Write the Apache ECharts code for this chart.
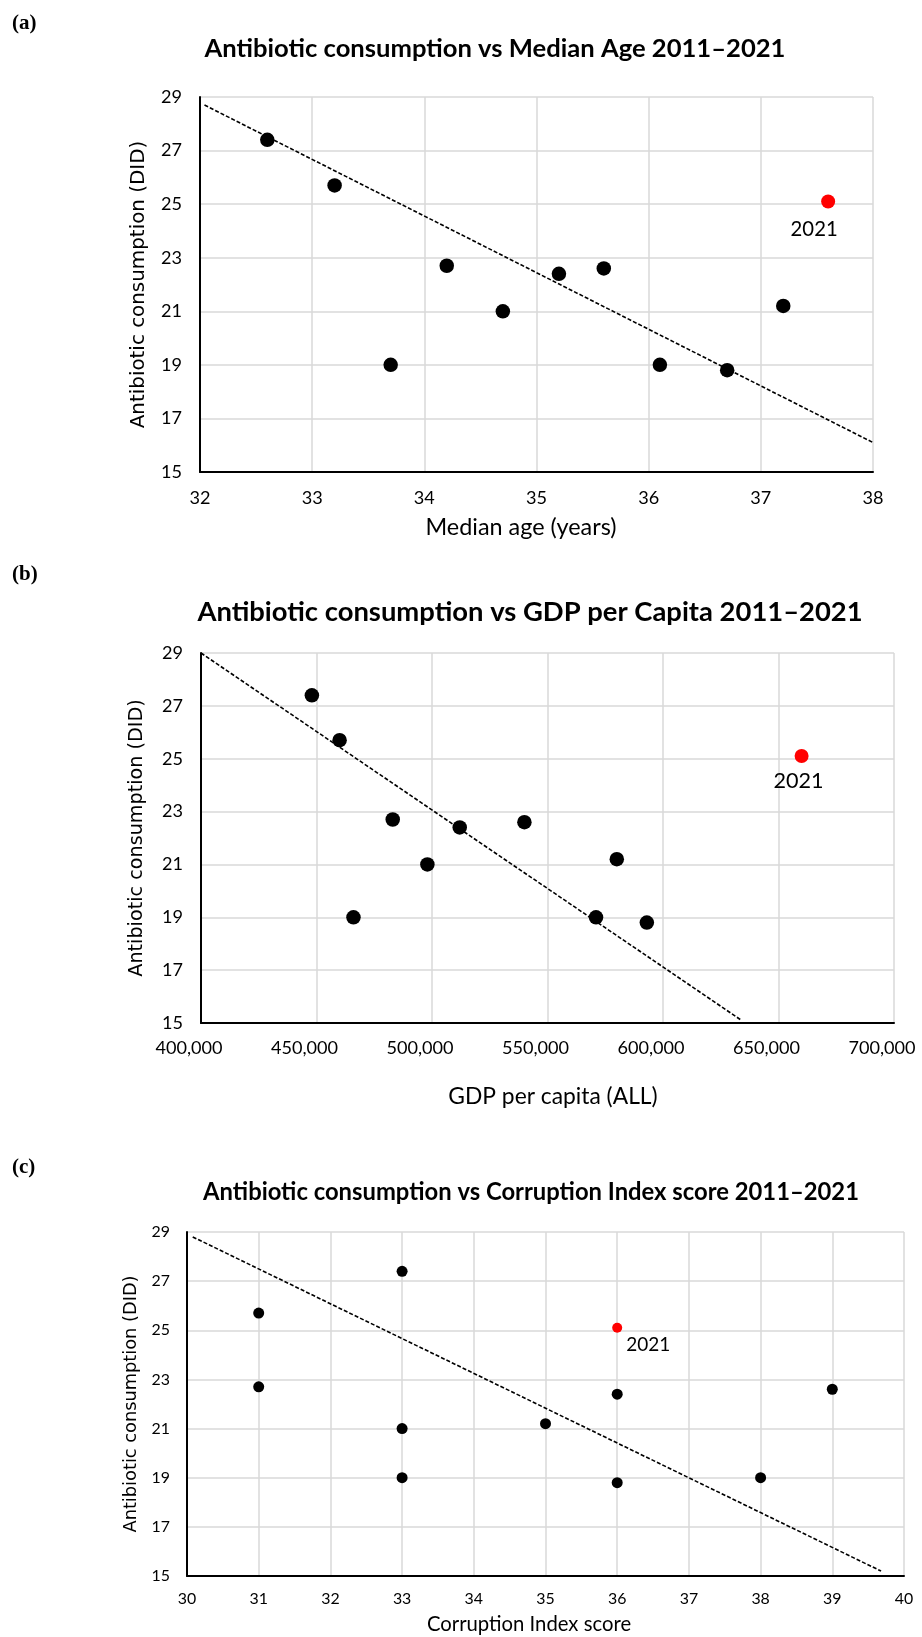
<!DOCTYPE html>
<html>
<head>
<meta charset="utf-8">
<script src="https://cdn.jsdelivr.net/npm/echarts@6/dist/echarts.min.js"></script>
<style>
html,body{margin:0;padding:0;background:#fff;}
#chart{width:922px;height:1637px;}
</style>
</head>
<body>
<div id="chart"></div>
<script>
// ---------------- DATA ----------------
const years = ['2011','2012','2013','2014','2015','2016','2017','2018','2019','2020','2021'];
const consumption = [27.4, 25.7, 19.0, 22.7, 21.0, 22.4, 22.6, 19.0, 18.8, 21.2, 25.1];
const medianAge = [32.6, 33.2, 33.7, 34.2, 34.7, 35.2, 35.6, 36.1, 36.7, 37.2, 37.6];
const gdpPerCapita = [448000, 460000, 466000, 483000, 498000, 512000, 540000, 571000, 593000, 580000, 660000];
const corruptionScore = [33, 31, 33, 31, 33, 36, 39, 38, 36, 35, 36];
const highlightYear = '2021';

// trend lines (endpoints)
const trendAgeX = [32.04, 38];
const trendAgeY = [28.7, 16.1];
const trendGdpX = [400000, 634000];
const trendGdpY = [29.0, 15.1];
const trendCpiX = [30.08, 39.68];
const trendCpiY = [28.8, 15.2];

// axis ranges / ticks
const yTicks = [15, 17, 19, 21, 23, 25, 27, 29];
const ageTicks = [32, 33, 34, 35, 36, 37, 38];
const gdpTicks = [400000, 450000, 500000, 550000, 600000, 650000, 700000];
const cpiTicks = [30, 31, 32, 33, 34, 35, 36, 37, 38, 39, 40];

const panelLabels = ['(a)', '(b)', '(c)'];
const titles = [
  'Antibiotic consumption vs Median Age 2011\u20132021',
  'Antibiotic consumption vs GDP per Capita 2011\u20132021',
  'Antibiotic consumption vs Corruption Index score 2011\u20132021'
];
const xNames = ['Median age (years)', 'GDP per capita (ALL)', 'Corruption Index score'];
const yName = 'Antibiotic consumption (DID)';

// ---------------- LAYOUT ----------------
const cv = document.createElement('canvas').getContext('2d');
function fitSize(text, family, weight, target) {
  cv.font = weight + ' 100px ' + family;
  return Math.round(1000 * target / cv.measureText(text).width) / 10;
}
const layout = [
  { grid: {left: 200, top: 97, width: 673, height: 375}, titleX: 495, titleY: 49, titleW: 582, labelY: 24,
    yNameX: 139, yNameW: 288, xNameX: 521, xNameY: 527, xNameW: 191, tickW: 21, xLabelCY: 498, yLabelMargin: 18,
    xLabelShift: 0, sym: 14.5, symHi: 14, hiW: 47, hiOff: [-14, 28] },
  { grid: {left: 201, top: 653, width: 693, height: 370}, titleX: 530, titleY: 612, titleW: 666, labelY: 575,
    yNameX: 137, yNameW: 278, xNameX: 553, xNameY: 1097, xNameW: 209, tickW: 21, xLabelCY: 1048, yLabelMargin: 18,
    xLabelShift: 12, sym: 14.5, symHi: 14, hiW: 50, hiOff: [-3, 25] },
  { grid: {left: 187, top: 1232, width: 717, height: 344}, titleX: 531, titleY: 1192, titleW: 656, labelY: 1168,
    yNameX: 132, yNameW: 257, xNameX: 529, xNameY: 1624, xNameW: 204, tickW: 18.5, xLabelCY: 1599, yLabelMargin: 17,
    xLabelShift: 0, sym: 11, symHi: 10, hiW: 44, hiOff: [31, 17] }
];

const xData = [medianAge, gdpPerCapita, corruptionScore];
const xTickSets = [ageTicks, gdpTicks, cpiTicks];
const trends = [[trendAgeX, trendAgeY], [trendGdpX, trendGdpY], [trendCpiX, trendCpiY]];

const TICK_FONT = 'Lato';
const gridColor = '#d9d9d9';

const grids = [], xAxes = [], yAxes = [], series = [], graphics = [];

layout.forEach((L, i) => {
  const g = L.grid;
  grids.push(Object.assign({containLabel: false, outerBoundsMode: 'none'}, g));
  const tickFs = fitSize('29', TICK_FONT, 'normal', L.tickW);
  const xNameFs = fitSize(xNames[i], TICK_FONT, 'normal', L.xNameW);
  const yNameFs = fitSize(yName, 'DejaVu Sans', 'normal', L.yNameW);
  const titleFs = fitSize(titles[i], TICK_FONT, 'bold', L.titleW);
  const hiFs = fitSize(highlightYear, TICK_FONT, 'normal', L.hiW);
  const xt = xTickSets[i];
  const bottom = g.top + g.height;
  const plotCX = g.left + g.width / 2;
  const xNameShift = L.xNameX - plotCX;

  xAxes.push({
    type: 'value', gridIndex: i,
    min: xt[0], max: xt[xt.length - 1], interval: xt[1] - xt[0],
    name: xNames[i], nameLocation: 'middle',
    nameGap: L.xNameY - bottom - xNameFs / 2,
    nameTextStyle: {fontFamily: TICK_FONT, fontSize: xNameFs, lineHeight: xNameFs, color: '#000',
      padding: xNameShift < 0 ? [0, -2 * xNameShift, 0, 0] : [0, 0, 0, 2 * xNameShift]},
    axisLine: {show: true, onZero: false, lineStyle: {color: '#000', width: 2}},
    axisTick: {show: false},
    axisLabel: {fontFamily: TICK_FONT, fontSize: tickFs, lineHeight: tickFs, color: '#000',
      margin: L.xLabelCY - bottom - tickFs / 2,
      padding: [0, 2 * L.xLabelShift, 0, 0],
      formatter: v => v.toLocaleString('en-US')},
    splitLine: {show: true, lineStyle: {color: gridColor, width: 1.5}}
  });
  yAxes.push({
    type: 'value', gridIndex: i,
    min: yTicks[0], max: yTicks[yTicks.length - 1], interval: yTicks[1] - yTicks[0],
    name: yName, nameLocation: 'middle', nameRotate: 90,
    nameGap: g.left - L.yNameX - yNameFs / 2,
    nameTextStyle: {fontFamily: 'DejaVu Sans', fontSize: yNameFs, lineHeight: yNameFs, color: '#000'},
    axisLine: {show: true, onZero: false, lineStyle: {color: '#000', width: 2}},
    axisTick: {show: false},
    axisLabel: {fontFamily: TICK_FONT, fontSize: tickFs, color: '#000', margin: L.yLabelMargin},
    splitLine: {show: true, lineStyle: {color: gridColor, width: 1.5}}
  });

  const [tx, ty] = trends[i];
  series.push({
    type: 'line', xAxisIndex: i, yAxisIndex: i, z: 2,
    data: tx.map((x, k) => [x, ty[k]]),
    symbol: 'none', silent: true,
    lineStyle: {color: '#000', width: 1.6, type: [4, 2]}
  });
  const pts = [], hi = [];
  years.forEach((yr, k) => {
    const p = [xData[i][k], consumption[k], yr];
    if (yr === highlightYear) hi.push(p); else pts.push(p);
  });
  series.push({
    type: 'scatter', xAxisIndex: i, yAxisIndex: i, z: 3,
    data: pts, symbolSize: L.sym,
    itemStyle: {color: '#000', opacity: 1}
  });
  series.push({
    type: 'scatter', xAxisIndex: i, yAxisIndex: i, z: 3,
    data: hi, symbolSize: L.symHi,
    itemStyle: {color: '#ff0000', opacity: 1},
    label: {show: true, position: 'inside', offset: L.hiOff, formatter: p => p.value[2],
      fontFamily: TICK_FONT, fontSize: hiFs, color: '#000'}
  });

  graphics.push({
    type: 'text', x: L.titleX, y: L.titleY,
    style: {text: titles[i], font: 'bold ' + titleFs + 'px ' + TICK_FONT, fill: '#000', align: 'center', verticalAlign: 'middle'}
  });
  graphics.push({
    type: 'text', x: 12, y: L.labelY,
    style: {text: panelLabels[i], font: 'bold 21px "Liberation Serif"', fill: '#000', align: 'left', verticalAlign: 'middle'}
  });
});

const chart = echarts.init(document.getElementById('chart'), null, {renderer: 'canvas'});
chart.setOption({
  animation: false,
  backgroundColor: '#fff',
  grid: grids,
  xAxis: xAxes,
  yAxis: yAxes,
  series: series,
  graphic: graphics
});
</script>
</body>
</html>
